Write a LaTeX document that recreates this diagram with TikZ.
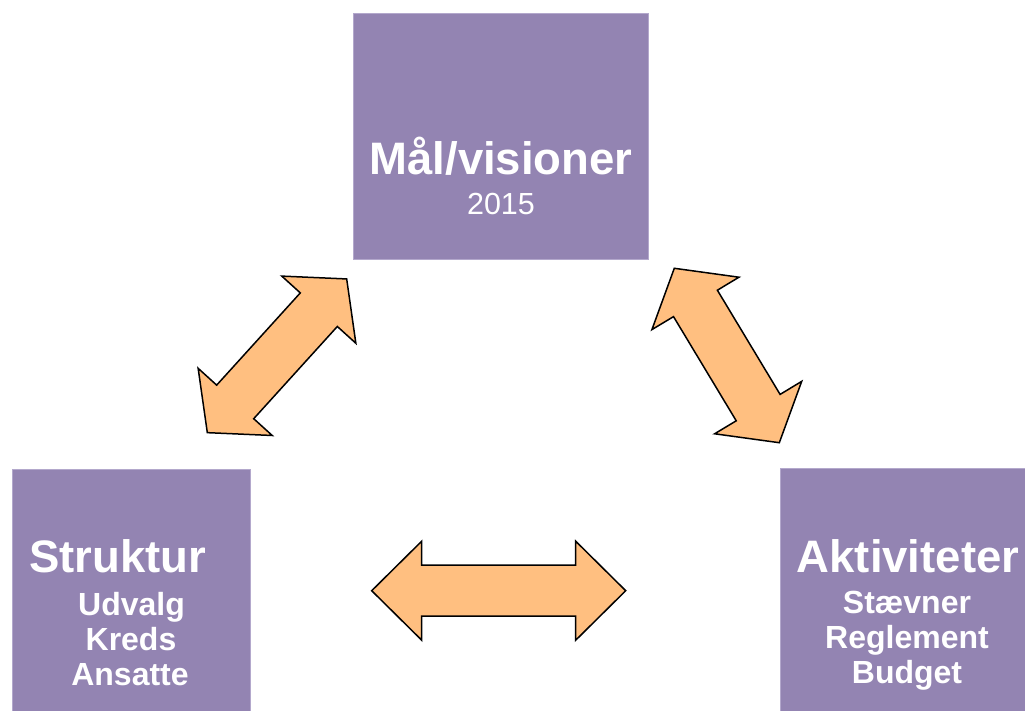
\documentclass[tikz,border=0pt]{standalone}
\usepackage{fontspec}
\setmainfont{Liberation Sans}
\definecolor{boxpurple}{HTML}{9384B2}
\definecolor{boxedge}{HTML}{B3A8CC}
\definecolor{arroworange}{HTML}{FFBF80}
\tikzset{
  box/.style={fill=boxpurple, draw=boxedge, line width=0.8pt, inner sep=0pt},
  big/.style={text=white, inner sep=0pt, anchor=base, font=\bfseries\fontsize{45.5}{50}\selectfont},
  small/.style={text=white, inner sep=0pt, anchor=base, font=\bfseries\fontsize{32}{36}\selectfont},
  year/.style={text=white, inner sep=0pt, anchor=base, font=\fontsize{30.5}{34}\selectfont},
  blockarrow/.style={fill=arroworange, draw=black, line width=1.5pt, line join=miter}
}
% double block arrow: #1 half length, #2 head length, #3 shaft half width, #4 head half width
\newcommand\dblblockarrow[4]{%
  \draw[blockarrow] (#1,0) -- (#1-#2,#4) -- (#1-#2,#3) -- (-#1+#2,#3) -- (-#1+#2,#4)
    -- (-#1,0) -- (-#1+#2,-#4) -- (-#1+#2,-#3) -- (#1-#2,-#3) -- (#1-#2,-#4) -- cycle;}
\begin{document}
\begin{tikzpicture}[x=1pt,y=-1pt]
\useasboundingbox (0,0) rectangle (1025,711);
\fill[white] (0,0) rectangle (1025,711);
% boxes
\path[box] (353,13) rectangle (648,259);
\node[inner sep=0pt] (goal) at (500.5,136) {};
\path[box] (12,469) rectangle (250,715);
\node[inner sep=0pt] (struct) at (131,590) {};
\path[box] (780,468) rectangle (1030,715);
\node[inner sep=0pt] (activ) at (902,590) {};
% texts
\node[big] (goalT) at (501,175) {Mål/visioner};
\node[year] (goalY) at (501,215) {2015};
\node[big] (structT) at (117.5,572) {Struktur};
\node[small] (s1) at (131.5,615) {Udvalg};
\node[small] (s2) at (131,650) {Kreds};
\node[small] (s3) at (130,685) {Ansatte};
\node[big] (activT) at (908,572) {Aktiviteter};
\node[small] (a1) at (907,613) {Stævner};
\node[small] (a2) at (907,648) {Reglement};
\node[small] (a3) at (907,683) {Budget};
% arrows
\begin{scope}[shift={(498.7,590.7)}]
  \dblblockarrow{127}{50}{25.5}{49.5}
\end{scope}
\begin{scope}[shift={(277,355.8)},rotate=47.8]
  \dblblockarrow{103.75}{41.5}{25}{50}
\end{scope}
\begin{scope}[shift={(726.8,355.5)},rotate=121.05]
  \dblblockarrow{101.8}{41}{25.6}{50.8}
\end{scope}
\end{tikzpicture}
\end{document}
